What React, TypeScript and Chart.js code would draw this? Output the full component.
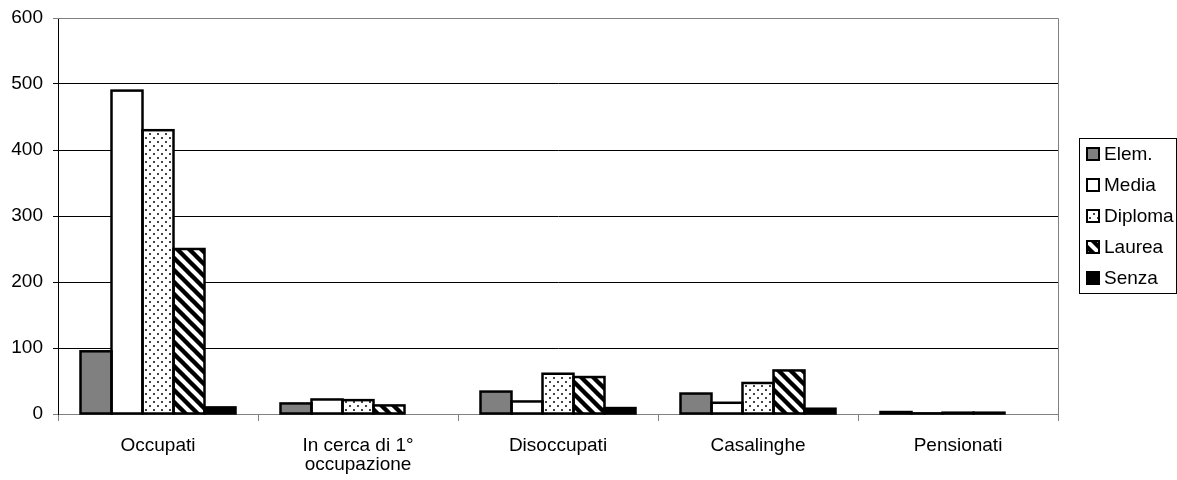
import React, { useEffect, useRef } from "react";
import { Chart, registerables } from "chart.js";
Chart.register(...registerables);

const categories: string[][] = [["Occupati"], ["In cerca di 1°", "occupazione"], ["Disoccupati"], ["Casalinghe"], ["Pensionati"]];
const seriesNames = ["Elem.", "Media", "Diploma", "Laurea", "Senza"];
const elem = [95, 16, 34, 31, 3];
const media = [490, 22, 19, 17, 1];
const diploma = [430, 21, 61, 47, 2];
const laurea = [250, 13, 56, 66, 2];
const senza = [10, 0, 9, 8, 0];
const yMin = 0;
const yMax = 600;
const yStep = 100;

const FONT = "'Liberation Sans', Arial, sans-serif";
const FS = 19;

function makeDots(): CanvasPattern | string {
  const c = document.createElement("canvas");
  c.width = 8;
  c.height = 8;
  const g = c.getContext("2d")!;
  g.fillStyle = "#ffffff";
  g.fillRect(0, 0, 8, 8);
  g.fillStyle = "#444444";
  g.fillRect(1, 1, 2, 2);
  g.fillRect(5, 5, 2, 2);
  const p = g.createPattern(c, "repeat");
  return p || "#fff";
}

function makeStripes(): CanvasPattern | string {
  const s = 12;
  const c = document.createElement("canvas");
  c.width = s;
  c.height = s;
  const g = c.getContext("2d")!;
  g.fillStyle = "#ffffff";
  g.fillRect(0, 0, s, s);
  g.strokeStyle = "#000000";
  g.lineWidth = 4.4;
  for (let k = -1; k <= 1; k++) {
    g.beginPath();
    g.moveTo(k * s - 2, -2);
    g.lineTo(k * s + s + 2, s + 2);
    g.stroke();
  }
  const p = g.createPattern(c, "repeat");
  return p || "#fff";
}

export default function App() {
  const ref = useRef<HTMLCanvasElement>(null);
  useEffect(() => {
    document.body.style.margin = "0";
    const ctx = ref.current!.getContext("2d")!;
    const fills: any[] = ["#808080", "#ffffff", makeDots(), makeStripes(), "#000000"];
    const values = [elem, media, diploma, laurea, senza];

    const outlinePlugin = {
      id: "outline",
      afterDatasetsDraw(chart: any) {
        const c = chart.ctx;
        c.save();
        c.strokeStyle = "#000000";
        c.lineWidth = 2.5;
        chart.data.datasets.forEach((ds: any, i: number) => {
          const meta = chart.getDatasetMeta(i);
          meta.data.forEach((el: any, j: number) => {
            if (!ds.data[j]) return;
            const p = el.getProps(["x", "y", "base", "width"], true);
            const l = p.x - p.width / 2;
            c.strokeRect(l, p.y, p.width, p.base - p.y);
          });
        });
        c.restore();
      },
    };

    const framePlugin = {
      id: "frame",
      afterDraw(chart: any) {
        const { ctx: c, chartArea: a } = chart;
        c.save();
        c.strokeStyle = "#808080";
        c.lineWidth = 1;
        c.beginPath();
        c.moveTo(a.left, a.top + 0.5);
        c.lineTo(a.right + 0.5, a.top + 0.5);
        c.lineTo(a.right + 0.5, a.bottom);
        c.stroke();
        // legend
        const lx = 1079, ly = 138, lw = 97, lh = 155;
        c.strokeStyle = "#000000";
        c.lineWidth = 1;
        c.strokeRect(lx + 0.5, ly + 0.5, lw, lh);
        c.font = FS + "px " + FONT;
        c.textBaseline = "middle";
        seriesNames.forEach((n, i) => {
          const y = ly + 16 + i * 31;
          c.fillStyle = fills[i];
          c.fillRect(lx + 8, y - 6, 12, 12);
          c.strokeStyle = "#000";
          c.lineWidth = 2;
          c.strokeRect(lx + 8, y - 6, 12, 12);
          c.fillStyle = "#000";
          c.fillText(n, lx + 25, y + 1);
        });
        c.restore();
      },
    };

    const chart = new Chart(ctx, {
      type: "bar",
      data: {
        labels: categories as any,
        datasets: seriesNames.map((n, i) => ({
          label: n,
          data: values[i],
          backgroundColor: fills[i],
          borderWidth: 0,
          barPercentage: 1,
          categoryPercentage: 0.775,
        })),
      },
      options: {
        responsive: false,
        animation: false,
        layout: { padding: { left: 0, right: 119, top: 18, bottom: 0 } },
        plugins: { legend: { display: false }, tooltip: { enabled: false } },
        scales: {
          x: {
            grid: {
              offset: true,
              drawOnChartArea: false,
              drawTicks: true,
              tickLength: 7,
              color: "#808080",
            },
            border: { color: "#808080", width: 1 },
            ticks: {
              color: "#000",
              font: { family: FONT, size: FS, lineHeight: 1.0 },
              padding: 15,
              maxRotation: 0,
              autoSkip: false,
            },
            afterFit(scale: any) {
              scale.height = 66;
              scale.paddingLeft = 0;
              scale.paddingRight = 0;
            },
          },
          y: {
            min: yMin,
            max: yMax,
            ticks: {
              stepSize: yStep,
              color: "#000",
              font: { family: FONT, size: FS },
              padding: 10,
            },
            grid: {
              color: (c: any) => (c.tick && (c.tick.value === yMin || c.tick.value === yMax) ? "#808080" : "#000000"),
              lineWidth: 1,
              tickLength: 5,
            },
            border: { color: "#000000", width: 1 },
            afterFit(scale: any) {
              scale.width = 58;
              scale.paddingTop = 0;
              scale.paddingBottom = 0;
            },
          },
        },
      },
      plugins: [outlinePlugin, framePlugin],
    });
    return () => chart.destroy();
  }, []);
  return <canvas ref={ref} width={1177} height={480} style={{ display: "block" }} />;
}
